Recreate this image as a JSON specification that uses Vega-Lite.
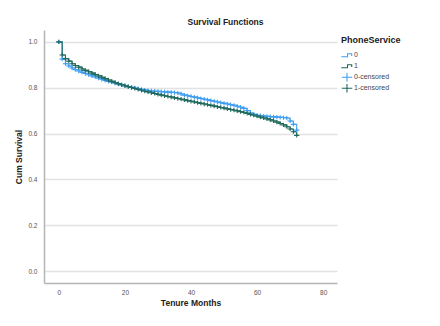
{
  "$schema": "https://vega.github.io/schema/vega-lite/v6.json",
  "width": 293,
  "height": 253,
  "padding": {"left": 14, "top": 17, "right": 0, "bottom": 0},
  "background": "white",
  "title": {
    "text": "Survival Functions",
    "fontSize": 8.5,
    "fontWeight": "bold",
    "font": "Liberation Sans",
    "color": "#222",
    "anchor": "middle",
    "offset": 4,
    "dx": 35
  },
  "data": {
    "values": [
      {"t":0,"s":1.0,"g":"0","c":"0-censored"},{"t":1,"s":0.925,"g":"0","c":"0-censored"},{"t":2,"s":0.905,"g":"0","c":"0-censored"},{"t":3,"s":0.895,"g":"0","c":"0-censored"},{"t":4,"s":0.886,"g":"0","c":"0-censored"},{"t":5,"s":0.879,"g":"0","c":"0-censored"},{"t":6,"s":0.873,"g":"0","c":"0-censored"},{"t":7,"s":0.867,"g":"0","c":"0-censored"},{"t":8,"s":0.862,"g":"0","c":"0-censored"},{"t":9,"s":0.857,"g":"0","c":"0-censored"},{"t":10,"s":0.852,"g":"0","c":"0-censored"},{"t":11,"s":0.847,"g":"0","c":"0-censored"},{"t":12,"s":0.842,"g":"0","c":"0-censored"},{"t":13,"s":0.837,"g":"0","c":"0-censored"},{"t":14,"s":0.832,"g":"0","c":"0-censored"},{"t":15,"s":0.828,"g":"0","c":"0-censored"},{"t":16,"s":0.824,"g":"0","c":"0-censored"},{"t":17,"s":0.82,"g":"0","c":"0-censored"},{"t":18,"s":0.816,"g":"0","c":"0-censored"},{"t":19,"s":0.812,"g":"0","c":"0-censored"},{"t":20,"s":0.808,"g":"0","c":"0-censored"},{"t":21,"s":0.805,"g":"0","c":"0-censored"},{"t":22,"s":0.802,"g":"0","c":"0-censored"},{"t":23,"s":0.799,"g":"0","c":"0-censored"},{"t":24,"s":0.796,"g":"0","c":"0-censored"},{"t":25,"s":0.793,"g":"0","c":"0-censored"},{"t":26,"s":0.79,"g":"0","c":"0-censored"},{"t":27,"s":0.788,"g":"0","c":"0-censored"},{"t":28,"s":0.786,"g":"0","c":"0-censored"},{"t":29,"s":0.785,"g":"0","c":"0-censored"},{"t":30,"s":0.784,"g":"0","c":"0-censored"},{"t":31,"s":0.783,"g":"0","c":"0-censored"},{"t":32,"s":0.782,"g":"0","c":"0-censored"},{"t":33,"s":0.781,"g":"0","c":"0-censored"},{"t":34,"s":0.78,"g":"0","c":"0-censored"},{"t":35,"s":0.779,"g":"0","c":"0-censored"},{"t":36,"s":0.777,"g":"0","c":"0-censored"},{"t":37,"s":0.773,"g":"0","c":"0-censored"},{"t":38,"s":0.768,"g":"0","c":"0-censored"},{"t":39,"s":0.765,"g":"0","c":"0-censored"},{"t":40,"s":0.762,"g":"0","c":"0-censored"},{"t":41,"s":0.759,"g":"0","c":"0-censored"},{"t":42,"s":0.756,"g":"0","c":"0-censored"},{"t":43,"s":0.753,"g":"0","c":"0-censored"},{"t":44,"s":0.75,"g":"0","c":"0-censored"},{"t":45,"s":0.747,"g":"0","c":"0-censored"},{"t":46,"s":0.744,"g":"0","c":"0-censored"},{"t":47,"s":0.741,"g":"0","c":"0-censored"},{"t":48,"s":0.738,"g":"0","c":"0-censored"},{"t":49,"s":0.735,"g":"0","c":"0-censored"},{"t":50,"s":0.732,"g":"0","c":"0-censored"},{"t":51,"s":0.729,"g":"0","c":"0-censored"},{"t":52,"s":0.726,"g":"0","c":"0-censored"},{"t":53,"s":0.723,"g":"0","c":"0-censored"},{"t":54,"s":0.719,"g":"0","c":"0-censored"},{"t":55,"s":0.715,"g":"0","c":"0-censored"},{"t":56,"s":0.71,"g":"0","c":"0-censored"},{"t":57,"s":0.7,"g":"0","c":"0-censored"},{"t":58,"s":0.69,"g":"0","c":"0-censored"},{"t":59,"s":0.684,"g":"0","c":"0-censored"},{"t":60,"s":0.68,"g":"0","c":"0-censored"},{"t":61,"s":0.678,"g":"0","c":"0-censored"},{"t":62,"s":0.676,"g":"0","c":"0-censored"},{"t":63,"s":0.675,"g":"0","c":"0-censored"},{"t":64,"s":0.674,"g":"0","c":"0-censored"},{"t":65,"s":0.673,"g":"0","c":"0-censored"},{"t":66,"s":0.672,"g":"0","c":"0-censored"},{"t":67,"s":0.671,"g":"0","c":"0-censored"},{"t":68,"s":0.67,"g":"0","c":"0-censored"},{"t":69,"s":0.668,"g":"0","c":"0-censored"},{"t":70,"s":0.655,"g":"0","c":"0-censored"},{"t":71,"s":0.64,"g":"0","c":"0-censored"},{"t":72,"s":0.615,"g":"0","c":"0-censored"},
      {"t":0,"s":1.0,"g":"1","c":"1-censored"},{"t":1,"s":0.943,"g":"1","c":"1-censored"},{"t":2,"s":0.927,"g":"1","c":"1-censored"},{"t":3,"s":0.916,"g":"1","c":"1-censored"},{"t":4,"s":0.905,"g":"1","c":"1-censored"},{"t":5,"s":0.897,"g":"1","c":"1-censored"},{"t":6,"s":0.89,"g":"1","c":"1-censored"},{"t":7,"s":0.882,"g":"1","c":"1-censored"},{"t":8,"s":0.876,"g":"1","c":"1-censored"},{"t":9,"s":0.87,"g":"1","c":"1-censored"},{"t":10,"s":0.864,"g":"1","c":"1-censored"},{"t":11,"s":0.858,"g":"1","c":"1-censored"},{"t":12,"s":0.852,"g":"1","c":"1-censored"},{"t":13,"s":0.846,"g":"1","c":"1-censored"},{"t":14,"s":0.84,"g":"1","c":"1-censored"},{"t":15,"s":0.834,"g":"1","c":"1-censored"},{"t":16,"s":0.828,"g":"1","c":"1-censored"},{"t":17,"s":0.823,"g":"1","c":"1-censored"},{"t":18,"s":0.818,"g":"1","c":"1-censored"},{"t":19,"s":0.813,"g":"1","c":"1-censored"},{"t":20,"s":0.809,"g":"1","c":"1-censored"},{"t":21,"s":0.805,"g":"1","c":"1-censored"},{"t":22,"s":0.801,"g":"1","c":"1-censored"},{"t":23,"s":0.797,"g":"1","c":"1-censored"},{"t":24,"s":0.793,"g":"1","c":"1-censored"},{"t":25,"s":0.789,"g":"1","c":"1-censored"},{"t":26,"s":0.785,"g":"1","c":"1-censored"},{"t":27,"s":0.782,"g":"1","c":"1-censored"},{"t":28,"s":0.778,"g":"1","c":"1-censored"},{"t":29,"s":0.775,"g":"1","c":"1-censored"},{"t":30,"s":0.771,"g":"1","c":"1-censored"},{"t":31,"s":0.768,"g":"1","c":"1-censored"},{"t":32,"s":0.765,"g":"1","c":"1-censored"},{"t":33,"s":0.762,"g":"1","c":"1-censored"},{"t":34,"s":0.759,"g":"1","c":"1-censored"},{"t":35,"s":0.756,"g":"1","c":"1-censored"},{"t":36,"s":0.753,"g":"1","c":"1-censored"},{"t":37,"s":0.75,"g":"1","c":"1-censored"},{"t":38,"s":0.747,"g":"1","c":"1-censored"},{"t":39,"s":0.744,"g":"1","c":"1-censored"},{"t":40,"s":0.741,"g":"1","c":"1-censored"},{"t":41,"s":0.738,"g":"1","c":"1-censored"},{"t":42,"s":0.735,"g":"1","c":"1-censored"},{"t":43,"s":0.732,"g":"1","c":"1-censored"},{"t":44,"s":0.729,"g":"1","c":"1-censored"},{"t":45,"s":0.726,"g":"1","c":"1-censored"},{"t":46,"s":0.723,"g":"1","c":"1-censored"},{"t":47,"s":0.72,"g":"1","c":"1-censored"},{"t":48,"s":0.717,"g":"1","c":"1-censored"},{"t":49,"s":0.714,"g":"1","c":"1-censored"},{"t":50,"s":0.711,"g":"1","c":"1-censored"},{"t":51,"s":0.708,"g":"1","c":"1-censored"},{"t":52,"s":0.705,"g":"1","c":"1-censored"},{"t":53,"s":0.702,"g":"1","c":"1-censored"},{"t":54,"s":0.699,"g":"1","c":"1-censored"},{"t":55,"s":0.696,"g":"1","c":"1-censored"},{"t":56,"s":0.692,"g":"1","c":"1-censored"},{"t":57,"s":0.688,"g":"1","c":"1-censored"},{"t":58,"s":0.684,"g":"1","c":"1-censored"},{"t":59,"s":0.68,"g":"1","c":"1-censored"},{"t":60,"s":0.676,"g":"1","c":"1-censored"},{"t":61,"s":0.672,"g":"1","c":"1-censored"},{"t":62,"s":0.668,"g":"1","c":"1-censored"},{"t":63,"s":0.664,"g":"1","c":"1-censored"},{"t":64,"s":0.66,"g":"1","c":"1-censored"},{"t":65,"s":0.655,"g":"1","c":"1-censored"},{"t":66,"s":0.65,"g":"1","c":"1-censored"},{"t":67,"s":0.644,"g":"1","c":"1-censored"},{"t":68,"s":0.638,"g":"1","c":"1-censored"},{"t":69,"s":0.63,"g":"1","c":"1-censored"},{"t":70,"s":0.62,"g":"1","c":"1-censored"},{"t":71,"s":0.608,"g":"1","c":"1-censored"},{"t":72,"s":0.592,"g":"1","c":"1-censored"}
    ]
  },
  "transform": [{"fold": ["g", "c"], "as": ["kind", "series"]}],
  "encoding": {
    "x": {
      "field": "t", "type": "quantitative",
      "scale": {"domain": [-4.5, 84.2], "nice": false, "zero": false},
      "axis": {
        "title": "Tenure Months", "values": [0, 20, 40, 60, 80], "grid": false,
        "ticks": false, "domainColor": "#b5b5b5", "domainWidth": 1.5,
        "labelFontSize": 6.5, "labelColor": "#555", "labelPadding": 6,
        "titleFontSize": 8.5, "titleFontWeight": "bold", "titleColor": "#222", "titlePadding": 3
      }
    },
    "y": {
      "field": "s", "type": "quantitative",
      "scale": {"domain": [-0.052, 1.052], "nice": false, "zero": false},
      "axis": {
        "title": "Cum Survival", "values": [0, 0.2, 0.4, 0.6, 0.8, 1.0], "format": ".1f",
        "grid": true, "gridColor": "#e2e2e2", "gridWidth": 1.5,
        "ticks": false, "domainColor": "#b5b5b5", "domainWidth": 1.5,
        "labelFontSize": 6.5, "labelColor": "#555", "labelPadding": 7,
        "titleFontSize": 8.5, "titleFontWeight": "bold", "titleColor": "#222", "titlePadding": 4
      }
    },
    "color": {
      "field": "series", "type": "nominal", "title": "PhoneService",
      "scale": {"domain": ["0", "1", "0-censored", "1-censored"], "range": ["#3f9ef2", "#20695c", "#3f9ef2", "#20695c"]}
    }
  },
  "layer": [
    {
      "transform": [{"filter": "datum.kind == 'g'"}],
      "mark": {"type": "line", "interpolate": "step-after", "strokeWidth": 1.1},
      "encoding": {"detail": {"field": "series"}}
    },
    {
      "transform": [{"filter": "datum.kind == 'c'"}],
      "mark": {"type": "point", "filled": false, "strokeWidth": 1.1, "size": 28, "opacity": 1},
      "encoding": {
        "shape": {
          "field": "series", "type": "nominal", "title": "PhoneService",
          "scale": {"domain": ["0", "1", "0-censored", "1-censored"], "range": ["M-1.1,0.3L0.1,0.3L0.1,-0.3L0.9,-0.3L0.9,0.15", "M-1.1,0.3L0.1,0.3L0.1,-0.3L0.9,-0.3L0.9,0.15", "M-1,0L1,0M0,-0.8L0,0.8", "M-1,0L1,0M0,-0.8L0,0.8"]}
        }
      }
    }
  ],
  "resolve": {"legend": {"color": "shared", "shape": "shared"}},
  "config": {
    "view": {"stroke": null},
    "font": "Liberation Sans",
    "legend": {
      "orient": "right", "offset": -2, "titleFontSize": 9, "titleFontWeight": "bold", "titleColor": "#222",
      "labelFontSize": 7, "labelColor": "#444", "symbolSize": 110, "symbolStrokeWidth": 1.1,
      "rowPadding": 0, "titlePadding": 5, "labelOffset": 1, "padding": 6, "symbolLimit": 10,
      "gridAlign": "all", "clipHeight": 10.5
    }
  }
}
